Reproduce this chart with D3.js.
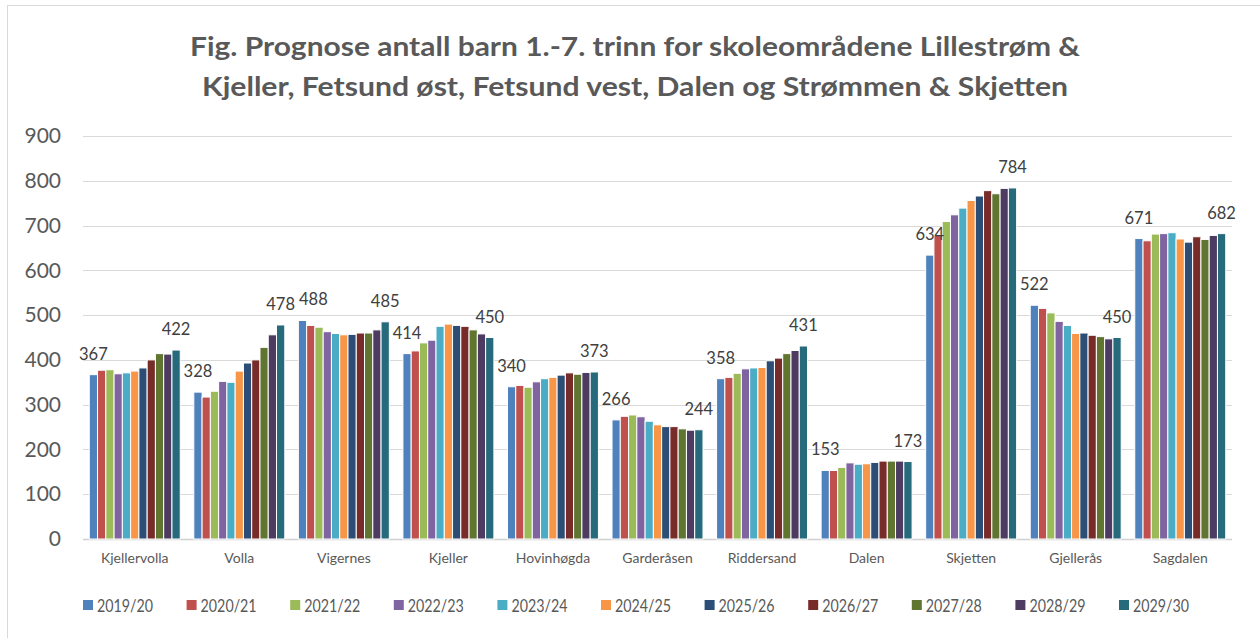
<!DOCTYPE html>
<html><head><meta charset="utf-8">
<script src="https://cdn.jsdelivr.net/npm/d3@7"></script>
<style>
html,body{margin:0;padding:0;background:#fff;}
svg{display:block;font-family:Lato,"Open Sans",sans-serif;}
</style></head>
<body><svg id="c" width="1260" height="638"></svg>
<script>
const categories = ["Kjellervolla","Volla","Vigernes","Kjeller","Hovinhøgda","Garderåsen","Riddersand","Dalen","Skjetten","Gjellerås","Sagdalen"];
const seriesNames = ["2019/20","2020/21","2021/22","2022/23","2023/24","2024/25","2025/26","2026/27","2027/28","2028/29","2029/30"];
const seriesColors = ["#4F81BD","#C0504D","#9BBB59","#8064A2","#4BACC6","#F79646","#2C4D75","#772C2A","#5F7530","#4D3B62","#276A7C"];
// values per category, one per series (2019/20 ... 2029/30)
const kjellervolla = [367,377,378,369,371,375,382,400,414,413,422];
const volla        = [328,317,330,352,350,375,393,400,428,456,478];
const vigernes     = [488,477,473,463,459,456,457,460,460,467,485];
const kjeller      = [414,420,438,444,475,480,477,475,467,458,450];
const hovinhogda   = [340,343,339,351,358,361,366,371,368,372,373];
const garderasen   = [266,274,277,273,263,255,251,251,246,243,244];
const riddersand   = [358,361,370,380,382,383,398,404,414,421,431];
const dalen        = [153,153,160,170,167,168,171,174,174,174,173];
const skjetten     = [634,678,709,724,739,756,766,778,771,783,784];
const gjelleras    = [522,515,505,486,477,459,460,455,452,447,450];
const sagdalen     = [671,666,681,682,684,670,663,675,669,678,682];
const values = [kjellervolla,volla,vigernes,kjeller,hovinhogda,garderasen,riddersand,dalen,skjetten,gjelleras,sagdalen];
const yTicks = [0,100,200,300,400,500,600,700,800,900];
const titleLines = ["Fig. Prognose antall barn 1.-7. trinn for skoleområdene Lillestrøm &","Kjeller, Fetsund øst, Fetsund vest, Dalen og Strømmen & Skjetten"];

const svg = d3.select("#c");
// chart frame
svg.append("rect").attr("x",7.5).attr("y",5.5).attr("width",1300).attr("height",700)
  .attr("fill","none").attr("stroke","#d9d9d9").attr("stroke-width",1);

const pL=83, pR=1232, pT=136, pB=539;
const x0 = d3.scaleBand().domain(categories).range([pL,pR]).paddingInner(0.13).paddingOuter(0.06);
const x1 = d3.scaleBand().domain(seriesNames).range([0,x0.bandwidth()]).padding(0);
const y = d3.scaleLinear().domain([0,900]).range([pB,pT]);

// title
const tw = [890, 866];
svg.append("g").selectAll("text").data(titleLines).join("text")
  .attr("x",635).attr("y",(d,i)=>56+i*40).attr("text-anchor","middle")
  .attr("font-size",26).attr("font-weight","bold").attr("fill","#595959")
  .attr("textLength",(d,i)=>tw[i]).attr("lengthAdjust","spacingAndGlyphs")
  .text(d=>d);

// gridlines
svg.append("g").selectAll("line").data(yTicks).join("line")
  .attr("x1",pL).attr("x2",pR).attr("y1",d=>Math.round(y(d))+0.5).attr("y2",d=>Math.round(y(d))+0.5)
  .attr("stroke",d=>d===0?"#d0d0d0":"#d9d9d9").attr("stroke-width",d=>d===0?1.5:1);

// y axis labels
const yAxis = d3.axisLeft(y).tickValues(yTicks).tickSize(0).tickPadding(0);
const ya = svg.append("g").attr("transform","translate(61,0)").call(yAxis);
ya.select(".domain").remove();
ya.selectAll("text").attr("font-size",21).attr("fill","#595959").attr("font-family","Lato,'Open Sans',sans-serif");

// bars
const groups = svg.append("g").selectAll("g").data(categories).join("g")
  .attr("transform",d=>`translate(${x0(d)},0)`);
groups.selectAll("rect").data((d,i)=>values[i].map((v,j)=>({v,s:seriesNames[j],c:seriesColors[j]})))
  .join("rect")
  .attr("x",d=>x1(d.s)).attr("width",x1.bandwidth())
  .attr("y",d=>y(d.v)).attr("height",d=>y(0)-y(d.v))
  .attr("fill",d=>d.c).attr("stroke","#fff").attr("stroke-width",1);

// data labels on first and last series
const lblData = [];
categories.forEach((c,i)=>[0,10].forEach(j=>lblData.push({
  v:values[i][j], cx:x0(c)+x1(seriesNames[j])+x1.bandwidth()/2
})));
const lbls = svg.append("g").selectAll("text").data(lblData).join("text")
  .attr("x",d=>d.cx).attr("y",d=>y(d.v)-15)
  .attr("text-anchor","middle").attr("font-size",16.5).attr("fill","#404040")
  .text(d=>d.v);
// nudge labels that collide with the previous one
let prev=null;
lbls.each(function(){
  const b=this.getBBox();
  if(prev && b.x < prev.x+prev.width+4 && b.y < prev.y+prev.height && b.y+b.height > prev.y){
    const dx = prev.x+prev.width+4-b.x;
    this.setAttribute("x", +this.getAttribute("x")+dx);
  }
  prev=this.getBBox();
});

// x axis labels
const xAxis = d3.axisBottom(x0).tickSize(0).tickPadding(0);
const xa = svg.append("g").attr("transform",`translate(0,${pB+14})`).call(xAxis);
xa.select(".domain").remove();
xa.selectAll("text").attr("font-size",14).attr("fill","#595959").attr("font-family","Lato,'Open Sans',sans-serif");

// legend
const leg = svg.append("g").selectAll("g").data(seriesNames).join("g")
  .attr("transform",(d,i)=>`translate(${83+i*103.6},0)`);
leg.append("rect").attr("x",0).attr("y",600).attr("width",10).attr("height",10).attr("fill",(d,i)=>seriesColors[i]);
leg.append("text").attr("x",14).attr("y",612).attr("font-size",18).attr("fill","#595959")
  .attr("textLength",56).attr("lengthAdjust","spacingAndGlyphs").text(d=>d);
</script></body></html>
